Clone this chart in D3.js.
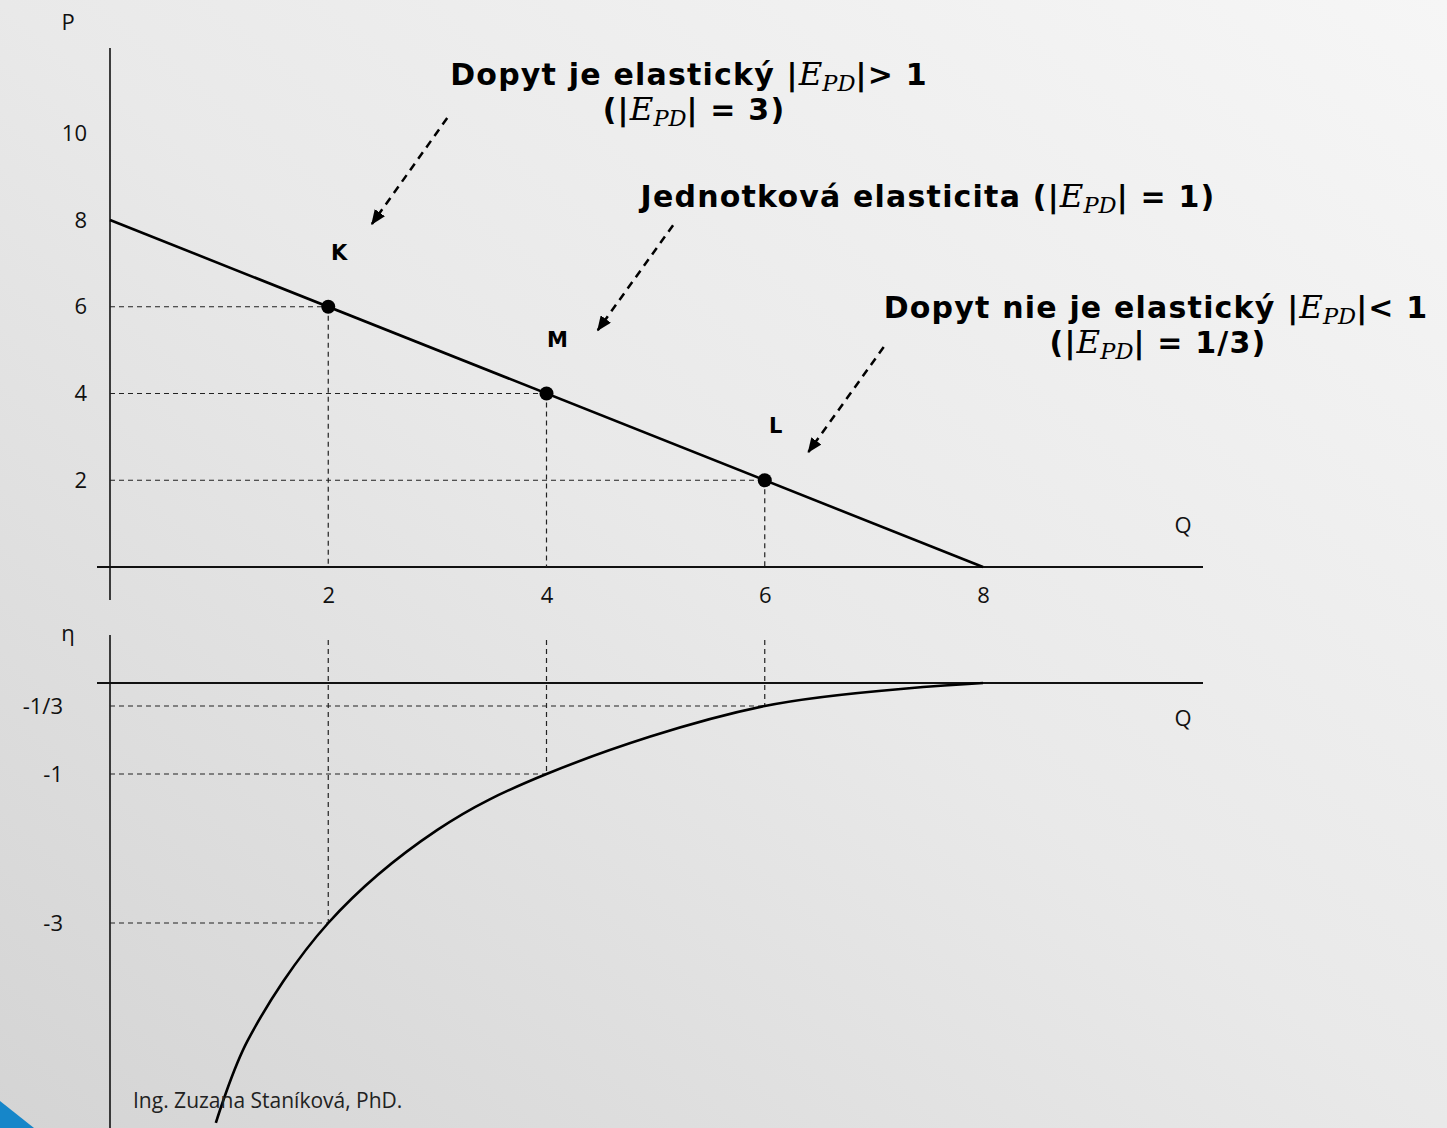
<!DOCTYPE html>
<html>
<head>
<meta charset="utf-8">
<script src="https://cdn.jsdelivr.net/npm/d3@7"></script>
<style>
html, body { margin: 0; padding: 0; overflow: hidden; }
</style>
</head>
<body>
<script>
var W = 1447, H = 1128;

// demand line P = 8 - Q
var demandQ = [0, 8];
var demandP = [8, 0];

// marked points on the demand line
var pointNames = ["K", "M", "L"];
var pointQ = [2, 4, 6];
var pointP = [6, 4, 2];
var pointEta = [-3, -1, -1/3];

// elasticity curve
var curveQ = [0.97, 1.26, 2, 3, 4, 6, 8];
var curveEta = [-6.9, -5.3, -3, -1.75, -1, -1/3, 0];

// tick labels
var qTicks = [2, 4, 6, 8];
var pTicks = [2, 4, 6, 8, 10];
var etaTicks = [-1/3, -1, -3];
var etaTickLabels = ["-1/3", "-1", "-3"];

var comic = "'DejaVu Sans', sans-serif";
var plain = "'Open Sans', 'Noto Sans', sans-serif";
var mathF = "'DejaVu Serif', 'Liberation Serif', serif";

var svg = d3.select("body").append("svg")
    .attr("width", W)
    .attr("height", H);

var defs = svg.append("defs");
var grad = defs.append("linearGradient")
    .attr("id", "bg")
    .attr("x1", 1).attr("y1", 0).attr("x2", 0).attr("y2", 1);
grad.append("stop").attr("offset", 0).attr("stop-color", "#f6f6f6");
grad.append("stop").attr("offset", 0.5).attr("stop-color", "#e9e9e9");
grad.append("stop").attr("offset", 1).attr("stop-color", "#d4d4d4");

defs.append("marker")
    .attr("id", "ah")
    .attr("viewBox", "0 0 12 10")
    .attr("refX", 11).attr("refY", 5)
    .attr("markerWidth", 6).attr("markerHeight", 5)
    .attr("orient", "auto")
  .append("path")
    .attr("d", "M0,0 L12,5 L0,10 z")
    .attr("fill", "#000");

svg.append("rect").attr("width", W).attr("height", H).attr("fill", "url(#bg)");
svg.append("path").attr("d", "M0,1101 L34,1128 L0,1128 Z").attr("fill", "#1686c9");

// scales
var x = d3.scaleLinear().domain([0, 8]).range([110, 983]);
var yP = d3.scaleLinear().domain([0, 8]).range([567, 220]);
var yE = d3.scaleLinear().domain([0, -1/3, -1, -3, -7]).range([683, 706, 774, 923, 1128]);

var ink = "#111";

// ---------- upper panel ----------
var upper = svg.append("g");

upper.append("line").attr("x1", x(0)).attr("x2", x(0)).attr("y1", 48).attr("y2", 600)
    .attr("stroke", ink).attr("stroke-width", 1.6);
upper.append("line").attr("x1", 97).attr("x2", 1203).attr("y1", yP(0)).attr("y2", yP(0))
    .attr("stroke", ink).attr("stroke-width", 2);

var pAxis = upper.append("g")
    .attr("transform", "translate(" + x(0) + ",0)")
    .call(d3.axisLeft(yP).tickValues(pTicks).tickSize(0).tickPadding(23));
var qAxis = upper.append("g")
    .attr("transform", "translate(0," + yP(0) + ")")
    .call(d3.axisBottom(x).tickValues(qTicks).tickSize(0).tickPadding(20));

// dashed guides
var pts = pointQ.map(function(q, i) { return {name: pointNames[i], q: q, p: pointP[i], e: pointEta[i]}; });
upper.selectAll(".hg").data(pts).enter().append("line")
    .attr("x1", x(0)).attr("x2", function(d) { return x(d.q); })
    .attr("y1", function(d) { return yP(d.p); }).attr("y2", function(d) { return yP(d.p); })
    .attr("stroke", "#222").attr("stroke-width", 1.2).attr("stroke-dasharray", "5,4");
upper.selectAll(".vg").data(pts).enter().append("line")
    .attr("x1", function(d) { return x(d.q); }).attr("x2", function(d) { return x(d.q); })
    .attr("y1", function(d) { return yP(d.p); }).attr("y2", yP(0))
    .attr("stroke", "#222").attr("stroke-width", 1.2).attr("stroke-dasharray", "5,4");

// demand line
upper.append("path")
    .datum(demandQ.map(function(q, i) { return [q, demandP[i]]; }))
    .attr("fill", "none").attr("stroke", "#000").attr("stroke-width", 2.6)
    .attr("d", d3.line().x(function(d) { return x(d[0]); }).y(function(d) { return yP(d[1]); }));

upper.selectAll(".pt").data(pts).enter().append("circle")
    .attr("cx", function(d) { return x(d.q); })
    .attr("cy", function(d) { return yP(d.p); })
    .attr("r", 7).attr("fill", "#000");

upper.selectAll(".pl").data(pts).enter().append("text")
    .attr("x", function(d) { return x(d.q) + 11; })
    .attr("y", function(d) { return yP(d.p) - 47; })
    .attr("text-anchor", "middle")
    .attr("font-family", comic).attr("font-weight", "bold").attr("font-size", 21)
    .text(function(d) { return d.name; });

// ---------- lower panel ----------
var lower = svg.append("g");
lower.append("line").attr("x1", x(0)).attr("x2", x(0)).attr("y1", 635).attr("y2", H)
    .attr("stroke", ink).attr("stroke-width", 1.6);
lower.append("line").attr("x1", 97).attr("x2", 1203).attr("y1", yE(0)).attr("y2", yE(0))
    .attr("stroke", ink).attr("stroke-width", 2);

var eAxis = lower.append("g")
    .attr("transform", "translate(" + (x(0) - 47) + ",0)")
    .call(d3.axisLeft(yE).tickValues(etaTicks).tickSize(0).tickPadding(0)
      .tickFormat(function(d, i) { return etaTickLabels[i]; }));

lower.selectAll(".hg").data(pts).enter().append("line")
    .attr("x1", x(0)).attr("x2", function(d) { return x(d.q); })
    .attr("y1", function(d) { return yE(d.e); }).attr("y2", function(d) { return yE(d.e); })
    .attr("stroke", "#222").attr("stroke-width", 1.2).attr("stroke-dasharray", "5,4");
lower.selectAll(".vg").data(pts).enter().append("line")
    .attr("x1", function(d) { return x(d.q); }).attr("x2", function(d) { return x(d.q); })
    .attr("y1", 640).attr("y2", function(d) { return yE(d.e); })
    .attr("stroke", "#222").attr("stroke-width", 1.2).attr("stroke-dasharray", "5,4");

lower.append("path")
    .datum(curveQ.map(function(q, i) { return [q, curveEta[i]]; }))
    .attr("fill", "none").attr("stroke", "#000").attr("stroke-width", 2.6)
    .attr("d", d3.line().curve(d3.curveCatmullRom.alpha(0.5))
      .x(function(d) { return x(d[0]); }).y(function(d) { return yE(d[1]); }));

// axis text styling
[pAxis, qAxis, eAxis].forEach(function(a) {
  a.select(".domain").remove();
  a.selectAll("text").attr("font-family", plain).attr("font-size", 22).attr("fill", ink);
});

function label(t, px, py) {
  svg.append("text").attr("x", px).attr("y", py)
    .attr("font-family", plain).attr("font-size", 22).attr("fill", ink)
    .attr("text-anchor", "middle").text(t);
}
label("P", 68, 30);
label("Q", 1183, 533);
label("Q", 1183, 726);
label("η", 68, 641);

svg.append("text").attr("x", 133).attr("y", 1108)
    .attr("font-family", plain).attr("font-size", 21).attr("fill", "#222")
    .text("Ing. Zuzana Staníková, PhD.");

// ---------- annotations ----------
function rich(cx, cy, parts, size) {
  var t = svg.append("text").attr("x", cx).attr("y", cy)
      .attr("text-anchor", "middle").attr("font-size", size).attr("fill", "#000");
  parts.forEach(function(p) {
    var s = t.append("tspan").text(p[0]);
    if (p[1] === "c") {
      s.attr("font-family", comic).attr("font-weight", "bold").attr("letter-spacing", 1.2);
    } else if (p[1] === "m") {
      s.attr("font-family", mathF).attr("font-style", "italic").attr("font-weight", "normal")
        .attr("font-size", size * 1.08);
    } else {
      s.attr("font-family", mathF).attr("font-style", "italic").attr("font-weight", "normal")
        .attr("font-size", size * 0.75).attr("dy", 6);
    }
    if (p[2]) s.attr("dy", p[2]);
  });
}
var fs = 30;
rich(689, 85, [["Dopyt je elastický |", "c"], ["E", "m"], ["PD", "s"], ["|> 1", "c", -6]], fs);
rich(694, 120, [["(|", "c"], ["E", "m"], ["PD", "s"], ["| = 3)", "c", -6]], fs);
rich(928, 207, [["Jednotková elasticita (|", "c"], ["E", "m"], ["PD", "s"], ["| = 1)", "c", -6]], fs);
rich(1156, 318, [["Dopyt nie je elastický |", "c"], ["E", "m"], ["PD", "s"], ["|< 1", "c", -6]], fs);
rich(1158, 353, [["(|", "c"], ["E", "m"], ["PD", "s"], ["| = 1/3)", "c", -6]], fs);

// dashed arrows, ends given in chart units
var arrows = [
  {q0: 3.09, p0: 10.35, q1: 2.40, p1: 7.91},
  {q0: 5.16, p0: 7.88, q1: 4.47, p1: 5.46},
  {q0: 7.09, p0: 5.07, q1: 6.40, p1: 2.65}
];
svg.selectAll(".arr").data(arrows).enter().append("line")
    .attr("x1", function(d) { return x(d.q0); }).attr("y1", function(d) { return yP(d.p0); })
    .attr("x2", function(d) { return x(d.q1); }).attr("y2", function(d) { return yP(d.p1); })
    .attr("stroke", "#000").attr("stroke-width", 2.5).attr("stroke-dasharray", "8,6")
    .attr("marker-end", "url(#ah)");
</script>
</body>
</html>
